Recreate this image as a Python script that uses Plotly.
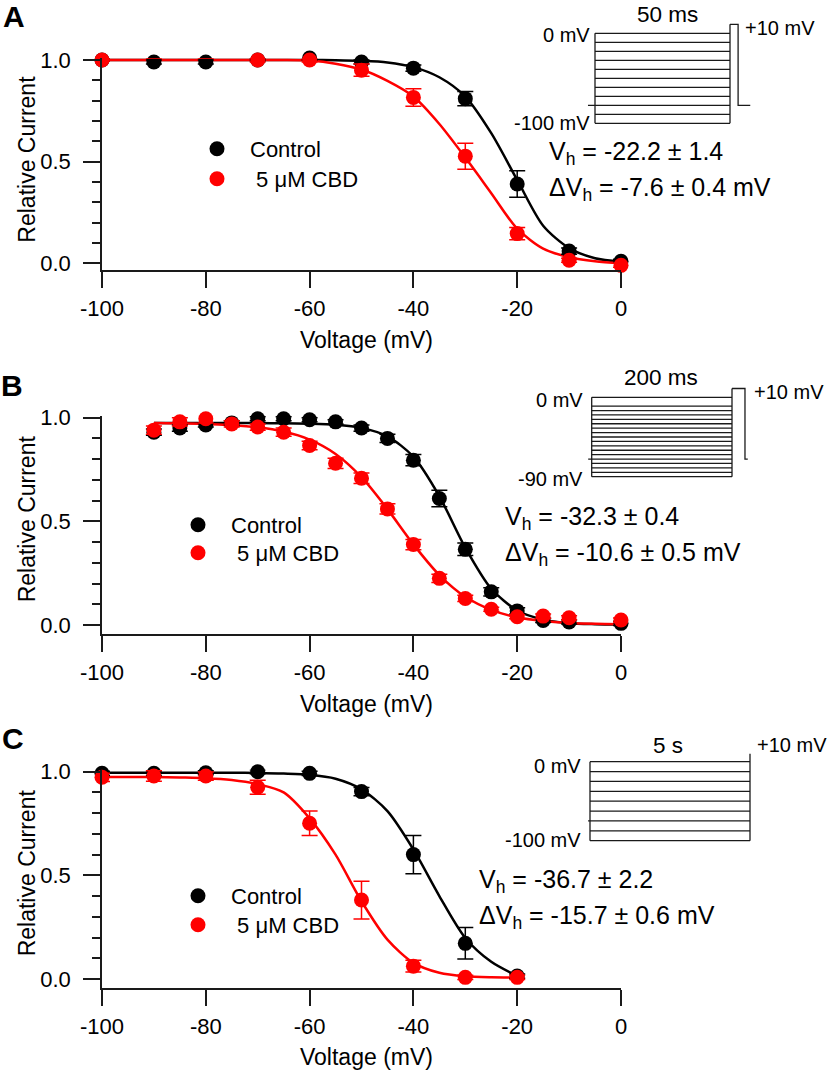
import plotly.graph_objects as go

W, H = 828, 1070
FONT = "Liberation Sans, Arial, Helvetica, sans-serif"
INK = "#1a1a1a"
BLACK = "#000000"
RED = "#ff0000"

# ---- panel A : 50 ms prepulse ----
volt_a = [-100, -90, -80, -70, -60, -50, -40, -30, -20, -10, 0]
ctrl_a = [1.00, 0.99, 0.99, 1.00, 1.01, 0.99, 0.96, 0.81, 0.39, 0.06, 0.01]
ctrl_a_err = [0.005, 0.01, 0.01, 0.005, 0.01, 0.01, 0.015, 0.035, 0.065, 0.015, 0.01]
cbd_a = [1.00, 1.02, 1.02, 1.00, 1.00, 0.95, 0.816, 0.527, 0.146, 0.015, -0.01]
cbd_a_err = [0.005, 0.01, 0.01, 0.01, 0.01, 0.03, 0.043, 0.064, 0.03, 0.01, 0.01]
fit_v_a = [-100, -95, -90, -85, -80, -75, -70, -65, -60, -55, -50,
           -45, -40, -35, -30, -25, -20, -15, -10, -5, 0]
fit_ctrl_a = [1.0, 1.0, 1.0, 1.0, 1.0, 1.0, 1.0, 1.0, 1.0, 0.999, 0.996,
              0.988, 0.965, 0.915, 0.82, 0.64, 0.41, 0.185, 0.075, 0.025, 0.008]
fit_cbd_a = [1.0, 1.0, 1.0, 1.0, 1.0, 1.0, 1.0, 1.0, 0.997, 0.982, 0.953,
             0.897, 0.82, 0.685, 0.52, 0.345, 0.17, 0.072, 0.03, 0.01, 0.0]

# ---- panel B : 200 ms prepulse ----
volt_b = [-90, -85, -80, -75, -70, -65, -60, -55, -50, -45, -40,
          -35, -30, -25, -20, -15, -10, 0]
ctrl_b = [0.93, 0.95, 0.965, 0.975, 0.995, 0.995, 0.99, 0.98, 0.95, 0.90, 0.795,
          0.61, 0.365, 0.16, 0.068, 0.022, 0.015, 0.008]
ctrl_b_err = [0.015, 0.015, 0.01, 0.01, 0.01, 0.01, 0.01, 0.01, 0.015, 0.02, 0.027,
              0.04, 0.03, 0.02, 0.015, 0.01, 0.01, 0.01]
cbd_b = [0.94, 0.98, 0.995, 0.97, 0.955, 0.93, 0.866, 0.78, 0.708, 0.56, 0.388,
         0.225, 0.128, 0.076, 0.04, 0.043, 0.035, 0.024]
cbd_b_err = [0.02, 0.02, 0.02, 0.015, 0.015, 0.02, 0.02, 0.025, 0.025, 0.025, 0.025,
             0.02, 0.015, 0.01, 0.01, 0.01, 0.01, 0.01]
fit_v_b = [-90, -85, -80, -75, -70, -65, -60, -55, -50, -45, -40,
           -35, -30, -25, -20, -15, -10, -5, 0]
fit_ctrl_b = [0.975, 0.975, 0.975, 0.975, 0.974, 0.973, 0.971, 0.966, 0.951, 0.91, 0.812,
              0.621, 0.373, 0.175, 0.07, 0.026, 0.009, 0.004, 0.002]
fit_cbd_b = [0.974, 0.972, 0.97, 0.964, 0.954, 0.933, 0.894, 0.825, 0.713, 0.559, 0.389,
             0.241, 0.136, 0.073, 0.037, 0.019, 0.01, 0.006, 0.004]

# ---- panel C : 5 s prepulse ----
volt_c = [-100, -90, -80, -70, -60, -50, -40, -30, -20]
ctrl_c = [0.992, 0.992, 0.995, 1.0, 0.992, 0.904, 0.60, 0.172, 0.014]
ctrl_c_err = [0.01, 0.01, 0.01, 0.01, 0.01, 0.02, 0.092, 0.076, 0.01]
cbd_c = [0.973, 0.979, 0.979, 0.925, 0.751, 0.381, 0.062, 0.008, 0.008]
cbd_c_err = [0.02, 0.025, 0.02, 0.034, 0.059, 0.091, 0.028, 0.01, 0.01]
fit_v_c = [-100, -95, -90, -85, -80, -75, -70, -65, -60, -55, -50,
           -45, -40, -35, -30, -25, -20]
fit_ctrl_c = [0.995, 0.995, 0.995, 0.995, 0.995, 0.995, 0.994, 0.991, 0.985, 0.966, 0.915,
              0.81, 0.625, 0.40, 0.198, 0.083, 0.015]
fit_cbd_c = [0.975, 0.975, 0.974, 0.972, 0.969, 0.96, 0.94, 0.90, 0.775, 0.60, 0.375,
             0.19, 0.078, 0.03, 0.013, 0.008, 0.007]

x_ticks = [-100, -80, -60, -40, -20, 0]
y_ticks = [0.0, 0.5, 1.0]

# ---- voltage protocols (insets) ----
steps_a = [0, -10, -20, -30, -40, -50, -60, -70, -80, -90, -100]
steps_b = [0, -10, -15, -20, -25, -30, -35, -40, -45, -50, -55, -60, -65, -70,
           -75, -80, -85, -90]
steps_c = [0, -12.5, -25, -37.5, -50, -62.5, -75, -87.5, -100]
# duration, holding, test level, test-pulse width, tail, pre-holding
prot_a = dict(dur=50, hold=-80, test=10, pulse=3, tail=4.5, pre=2.6)
prot_b = dict(dur=200, hold=-70, test=10, pulse=18.5, tail=4, pre=5)
prot_c = dict(dur=5, hold=-75, test=10, pulse=0, tail=0, pre=0.06)

labels_vh = [
    ("V<sub>h</sub> = -22.2 ± 1.4", "ΔV<sub>h</sub> = -7.6 ± 0.4 mV"),
    ("V<sub>h</sub> = -32.3 ± 0.4", "ΔV<sub>h</sub> = -10.6 ± 0.5 mV"),
    ("V<sub>h</sub> = -36.7 ± 2.2", "ΔV<sub>h</sub> = -15.7 ± 0.6 mV"),
]


def px_x(px):
    return px / W


def px_y(py):
    return 1 - py / H


def ydomain(py_one, py_zero, lo, hi):
    s = py_zero - py_one
    return [px_y(py_zero - lo * s), px_y(py_zero - hi * s)]


def protocol_xy(levels, p):
    xs, ys = [], []
    for lv in levels:
        xs += [0, p["dur"], None]
        ys += [lv, lv, None]
    xs += [0, 0, None, p["dur"], p["dur"], None]
    ys += [max(levels), min(levels), None, min(levels), p["test"], None]
    if p["pulse"] > 0:
        end = p["dur"] + p["pulse"]
        xs += [p["dur"], end, end, end + p["tail"], None]
        ys += [p["test"], p["test"], p["hold"], p["hold"], None]
    xs += [-p["pre"], 0]
    ys += [p["hold"], p["hold"]]
    return xs, ys


def inset_axes(t0px, t1px, tv1, v0py, v1py, vv1):
    sx = (t1px - t0px) / tv1
    left, right = t0px - 20, t1px + 30
    sy = (v1py - v0py) / (0 - vv1)
    top, bot = v0py - 25, v1py + 10
    xa = dict(domain=[px_x(left), px_x(right)],
              range=[(left - t0px) / sx, (right - t0px) / sx])
    ya = dict(domain=[px_y(bot), px_y(top)],
              range=[-(bot - v0py) / sy, (v0py - top) / sy])
    return xa, ya


panels = [
    dict(letter="A", v=volt_a, c=ctrl_a, ce=ctrl_a_err, d=cbd_a, de=cbd_a_err,
         fv=fit_v_a, fc=fit_ctrl_a, fd=fit_cbd_a, one=60, zero=263.3, lo=-0.034,
         letter_xy=(14, 17), leg=(217, 148, 178), vh=(547, 153), xt=340,
         steps=steps_a, prot=prot_a, ins=(595, 730, 33.3, 123.3, -100),
         dur_txt="50 ms", dur_xy=(667, 15), top_xy=(592, 35), bot_txt="-100 mV",
         bot_xy=(592, 123.5), plus_xy=(743, 28)),
    dict(letter="B", v=volt_b, c=ctrl_b, ce=ctrl_b_err, d=cbd_b, de=cbd_b_err,
         fv=fit_v_b, fc=fit_ctrl_b, fd=fit_cbd_b, one=417.7, zero=625, lo=-0.043,
         letter_xy=(12, 385), leg=(198, 524, 552), vh=(503, 518), xt=704,
         steps=steps_b, prot=prot_b, ins=(591.7, 732, 397.3, 476.7, -90),
         dur_txt="200 ms", dur_xy=(661, 377), top_xy=(585, 400), bot_txt="-90 mV",
         bot_xy=(585, 479), plus_xy=(752, 392)),
    dict(letter="C", v=volt_c, c=ctrl_c, ce=ctrl_c_err, d=cbd_c, de=cbd_c_err,
         fv=fit_v_c, fc=fit_ctrl_c, fd=fit_cbd_c, one=771.7, zero=979, lo=-0.042,
         letter_xy=(13, 738), leg=(198, 895, 924), vh=(477, 881), xt=1057,
         steps=steps_c, prot=prot_c, ins=(590, 750, 761.7, 840.7, -100),
         dur_txt="5 s", dur_xy=(668, 745), top_xy=(583, 766), bot_txt="-100 mV",
         bot_xy=(583, 840), plus_xy=(755, 745)),
]

fig = go.Figure()
layout = dict(width=W, height=H, margin=dict(l=0, r=0, t=0, b=0, autoexpand=False),
              paper_bgcolor="white", plot_bgcolor="white",
              font=dict(family=FONT, size=22, color=BLACK), annotations=[])
ann = layout["annotations"]

for i, p in enumerate(panels, start=1):
    xs = "x" if i == 1 else f"x{i}"
    ys = "y" if i == 1 else f"y{i}"
    for fy, col in [(p["fc"], BLACK), (p["fd"], RED)]:
        fig.add_trace(go.Scatter(x=p["fv"], y=fy, mode="lines", xaxis=xs, yaxis=ys,
                                 line=dict(color=col, width=2.5, shape="spline", smoothing=0.8),
                                 showlegend=False, hoverinfo="skip"))
    lx, ly_c, ly_d = p["leg"]
    for n, (yy, ee, col, name, ly) in enumerate([(p["c"], p["ce"], BLACK, "Control", ly_c),
                                                 (p["d"], p["de"], RED, "\u00a05 μM CBD", ly_d)]):
        li = 2 * i - 1 + n
        leg = "legend" if li == 1 else f"legend{li}"
        fig.add_trace(go.Scatter(x=p["v"], y=yy, mode="markers", xaxis=xs, yaxis=ys,
                                 name=name, legend=leg, cliponaxis=False,
                                 marker=dict(color=col, size=15),
                                 error_y=dict(type="data", array=ee, color=col,
                                              thickness=1.5, width=8)))
        layout[leg] = dict(x=px_x(lx - 33), y=px_y(ly - 20), xanchor="left", yanchor="top",
                           bgcolor="rgba(0,0,0,0)", itemwidth=56, itemsizing="trace",
                           font=dict(size=22))

    layout[f"xaxis{'' if i == 1 else i}"] = dict(
        domain=[px_x(102), px_x(621)], range=[-100, 0], anchor=ys, automargin=False,
        tickmode="array", tickvals=x_ticks, ticktext=[str(t) for t in x_ticks],
        ticks="outside", ticklen=16, tickwidth=1.6, tickcolor=INK, ticklabelstandoff=2,
        showline=True, linecolor=INK, linewidth=1.6, showgrid=False, zeroline=False,
        tickfont=dict(size=22))
    layout[f"yaxis{'' if i == 1 else i}"] = dict(
        domain=ydomain(p["one"], p["zero"], p["lo"], 1.01), range=[p["lo"], 1.01],
        anchor=xs, automargin=False, tickmode="array", tickvals=y_ticks,
        ticktext=[f"{t:.1f}" for t in y_ticks], ticklabelstandoff=8,
        ticks="outside", ticklen=17, tickwidth=1.6, tickcolor=INK,
        minor=dict(dtick=0.1, tick0=0, ticks="outside", ticklen=8, tickwidth=1.6,
                   tickcolor=INK, showgrid=False),
        showline=True, linecolor=INK, linewidth=1.6, showgrid=False, zeroline=False,
        tickfont=dict(size=22))

    # axis titles
    ann.append(dict(text="Voltage (mV)", x=px_x(366), y=px_y(p["xt"]), xref="paper",
                    yref="paper", showarrow=False, font=dict(size=23),
                    xanchor="center", yanchor="middle"))
    ann.append(dict(text="Relative Current", x=px_x(27),
                    y=px_y((p["one"] + p["zero"]) / 2 - 2), xref="paper", yref="paper",
                    showarrow=False, font=dict(size=23), textangle=-90,
                    xanchor="center", yanchor="middle"))

    # inset protocol
    k = i + 3
    t0px, t1px, v0py, v1py, vv1 = p["ins"]
    xa, ya = inset_axes(t0px, t1px, p["prot"]["dur"], v0py, v1py, vv1)
    xa.update(anchor=f"y{k}", visible=False, fixedrange=True, automargin=False)
    ya.update(anchor=f"x{k}", visible=False, fixedrange=True, automargin=False)
    layout[f"xaxis{k}"] = xa
    layout[f"yaxis{k}"] = ya
    px_, py_ = protocol_xy(p["steps"], p["prot"])
    fig.add_trace(go.Scatter(x=px_, y=py_, mode="lines", xaxis=f"x{k}", yaxis=f"y{k}",
                             line=dict(color=INK, width=1.3), showlegend=False,
                             hoverinfo="skip", connectgaps=False))

    ann.append(dict(text=f"<b>{p['letter']}</b>", x=px_x(p["letter_xy"][0]),
                    y=px_y(p["letter_xy"][1]), xref="paper", yref="paper",
                    showarrow=False, font=dict(size=30), xanchor="center", yanchor="middle"))
    vx, vy = p["vh"]
    for j, txt in enumerate(labels_vh[i - 1]):
        ann.append(dict(text=txt, x=px_x(vx), y=px_y(vy + 36 * j), xref="paper", yref="paper",
                        showarrow=False, font=dict(size=25), xanchor="left", yanchor="middle"))
    for txt, xy, xanc, size in [(p["dur_txt"], p["dur_xy"], "center", 22.5),
                                ("0 mV", p["top_xy"], "right", 20),
                                (p["bot_txt"], p["bot_xy"], "right", 20),
                                ("+10 mV", p["plus_xy"], "left", 20)]:
        ann.append(dict(text=txt, x=px_x(xy[0]), y=px_y(xy[1]), xref="paper", yref="paper",
                        showarrow=False, font=dict(size=size), xanchor=xanc, yanchor="middle"))

fig.update_layout(**layout)
fig.write_html("out.html", config={"displayModeBar": False},
               post_script="document.body.style.margin = '0px';")
